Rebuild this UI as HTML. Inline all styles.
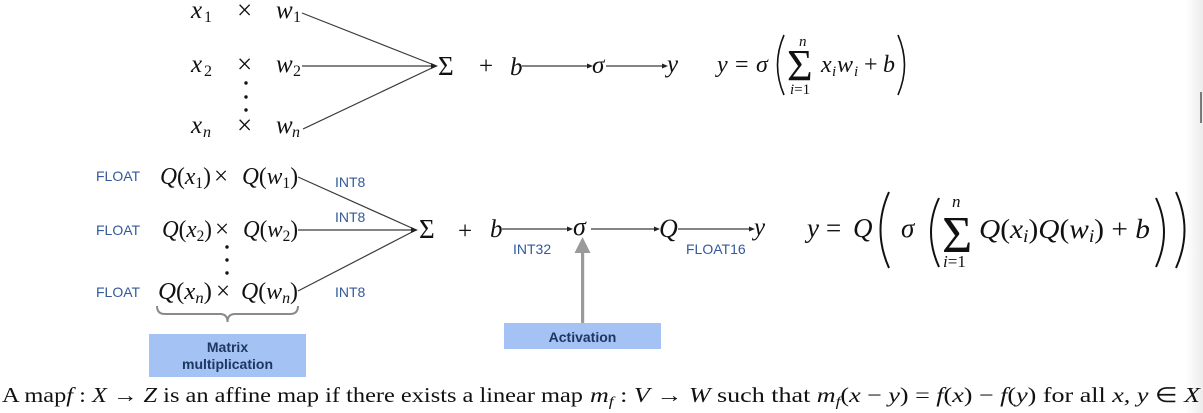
<!DOCTYPE html>
<html>
<head>
<meta charset="utf-8">
<style>
  html,body{margin:0;padding:0;background:#fff;}
  body{width:1203px;height:413px;overflow:hidden;}
  svg{display:block;}
  .m{font-family:"Liberation Serif",serif;fill:#111;}
  .i{font-style:italic;}
  .s{font-family:"Liberation Sans",sans-serif;fill:#33589c;font-size:14px;}
  .b{font-family:"Liberation Sans",sans-serif;fill:#1d3760;font-size:14px;font-weight:bold;}
</style>
</head>
<body>
<svg width="1203" height="413" viewBox="0 0 1203 413" xmlns="http://www.w3.org/2000/svg">
  <defs>
    <linearGradient id="edge" x1="0" y1="0" x2="1" y2="0">
      <stop offset="0" stop-color="#ffffff"/>
      <stop offset="1" stop-color="#ececec"/>
    </linearGradient>
  </defs>
  <rect x="1186" y="0" width="17" height="413" fill="url(#edge)"/>
  <rect x="1200" y="92" width="2" height="31" fill="#7a7a7a"/>

  <!-- ========== TOP DIAGRAM ========== -->
  <g class="m" font-size="25">
    <text x="191" y="18" class="i">x</text><text x="204" y="22" font-size="16">1</text>
    <text x="237" y="19" font-size="27">×</text>
    <text x="276" y="18" class="i">w</text><text x="293" y="22" font-size="16">1</text>

    <text x="191" y="72" class="i">x</text><text x="204" y="76" font-size="16">2</text>
    <text x="237" y="73" font-size="27">×</text>
    <text x="276" y="72" class="i">w</text><text x="293" y="76" font-size="16">2</text>

    <text x="191" y="133" class="i">x</text><text x="203" y="137" font-size="16" class="i">n</text>
    <text x="237" y="134" font-size="27">×</text>
    <text x="276" y="133" class="i">w</text><text x="292" y="137" font-size="16" class="i">n</text>
  </g>
  <circle cx="246" cy="83" r="1.7" fill="#111"/>
  <circle cx="246" cy="97" r="1.7" fill="#111"/>
  <circle cx="246" cy="110" r="1.7" fill="#111"/>

  <g stroke="#3a3a3a" stroke-width="1.2" fill="none">
    <line x1="302" y1="13" x2="434" y2="65"/>
    <line x1="302" y1="66" x2="434" y2="66"/>
    <line x1="303" y1="129" x2="434" y2="67"/>
    <line x1="522" y1="66" x2="588" y2="66"/>
    <line x1="606" y1="66" x2="663" y2="66"/>
  </g>
  <g fill="#222">
    <polygon points="438,66 431,63 431,69"/>
    <polygon points="593,66 587,63.5 587,68.5"/>
    <polygon points="668,66 662,63.5 662,68.5"/>
  </g>
  <g class="m" font-size="25">
    <text x="438" y="75" font-size="27">Σ</text>
    <text x="479" y="74">+</text>
    <text x="510" y="75" class="i">b</text>
    <text x="592" y="73" class="i">σ</text>
    <text x="667" y="72" class="i">y</text>
  </g>

  <!-- formula 1 -->
  <g class="m" font-size="24">
    <text x="717" y="72" class="i">y</text>
    <text x="735" y="72">=</text>
    <text x="756" y="72" class="i">σ</text>
    <text x="787" y="80" font-size="44">Σ</text>
    <text x="799" y="46" font-size="15" class="i">n</text>
    <text x="790" y="94" font-size="15"><tspan class="i">i</tspan>=1</text>
    <text x="821" y="72" class="i">x</text><text x="832" y="76" font-size="15" class="i">i</text>
    <text x="837" y="72" class="i">w</text><text x="854" y="76" font-size="15" class="i">i</text>
    <text x="864" y="72">+</text>
    <text x="883" y="72" class="i">b</text>
  </g>
  <g stroke="#111" stroke-width="1.6" fill="none">
    <path d="M784 35 Q771 65 784 95"/>
    <path d="M898 35 Q911 65 898 95"/>
  </g>

  <!-- ========== BOTTOM DIAGRAM ========== -->
  <text x="96" y="181" class="s">FLOAT</text>
  <text x="96" y="235" class="s">FLOAT</text>
  <text x="96" y="297" class="s">FLOAT</text>

  <g class="m" font-size="24">
    <text x="160" y="184" textLength="51" lengthAdjust="spacingAndGlyphs"><tspan class="i">Q</tspan>(<tspan class="i">x</tspan><tspan font-size="16" dy="4">1</tspan><tspan dy="-4">)</tspan></text>
    <text x="214" y="184" font-size="25">×</text>
    <text x="242" y="184" textLength="56" lengthAdjust="spacingAndGlyphs"><tspan class="i">Q</tspan>(<tspan class="i">w</tspan><tspan font-size="16" dy="4">1</tspan><tspan dy="-4">)</tspan></text>

    <text x="162" y="237" textLength="50" lengthAdjust="spacingAndGlyphs"><tspan class="i">Q</tspan>(<tspan class="i">x</tspan><tspan font-size="16" dy="4">2</tspan><tspan dy="-4">)</tspan></text>
    <text x="215" y="237" font-size="25">×</text>
    <text x="243" y="237" textLength="55" lengthAdjust="spacingAndGlyphs"><tspan class="i">Q</tspan>(<tspan class="i">w</tspan><tspan font-size="16" dy="4">2</tspan><tspan dy="-4">)</tspan></text>

    <text x="158" y="299" textLength="54" lengthAdjust="spacingAndGlyphs"><tspan class="i">Q</tspan>(<tspan class="i">x</tspan><tspan font-size="16" dy="4" class="i">n</tspan><tspan dy="-4">)</tspan></text>
    <text x="216" y="299" font-size="25">×</text>
    <text x="241" y="299" textLength="57" lengthAdjust="spacingAndGlyphs"><tspan class="i">Q</tspan>(<tspan class="i">w</tspan><tspan font-size="16" dy="4" class="i">n</tspan><tspan dy="-4">)</tspan></text>
  </g>
  <circle cx="227" cy="247" r="1.7" fill="#111"/>
  <circle cx="227" cy="260" r="1.7" fill="#111"/>
  <circle cx="227" cy="273" r="1.7" fill="#111"/>

  <g stroke="#3a3a3a" stroke-width="1.2" fill="none">
    <line x1="298" y1="177" x2="414" y2="229"/>
    <line x1="298" y1="230" x2="414" y2="230"/>
    <line x1="298" y1="291" x2="414" y2="231"/>
    <line x1="502" y1="229" x2="568" y2="229"/>
    <line x1="591" y1="229" x2="655" y2="229"/>
    <line x1="678" y1="229" x2="750" y2="229"/>
  </g>
  <g fill="#222">
    <polygon points="418,230 411,227 411,233"/>
    <polygon points="573,229 567,226.5 567,231.5"/>
    <polygon points="660,229 654,226.5 654,231.5"/>
    <polygon points="755,229 749,226.5 749,231.5"/>
  </g>

  <text x="335" y="187" class="s">INT8</text>
  <text x="335" y="222" class="s">INT8</text>
  <text x="335" y="297" class="s">INT8</text>
  <text x="513" y="254" class="s">INT32</text>
  <text x="686" y="254" class="s">FLOAT16</text>

  <g class="m" font-size="25">
    <text x="419" y="238" font-size="27">Σ</text>
    <text x="458" y="239">+</text>
    <text x="490" y="237" class="i">b</text>
    <text x="573" y="235" class="i" font-size="26">σ</text>
    <text x="659" y="237" class="i" font-size="26">Q</text>
    <text x="754" y="235" class="i">y</text>
  </g>

  <!-- brace -->
  <path d="M157 306 Q157 314 165 314 L220 314 Q227.5 314 227.5 322 Q227.5 314 235 314 L290 314 Q298 314 298 306" stroke="#8a8a8a" stroke-width="2" fill="none"/>

  <!-- Matrix multiplication box -->
  <rect x="149" y="334" width="157" height="43" fill="#a4c2f4"/>
  <text x="227.5" y="352" class="b" text-anchor="middle">Matrix</text>
  <text x="227.5" y="369" class="b" text-anchor="middle">multiplication</text>

  <!-- Activation arrow and box -->
  <rect x="581" y="252" width="3.2" height="72" fill="#9a9a9a"/>
  <polygon points="574.5,253 590.5,253 582.5,237" fill="#9a9a9a"/>
  <rect x="504" y="323" width="157" height="26" fill="#a4c2f4"/>
  <text x="582.5" y="342" class="b" text-anchor="middle">Activation</text>

  <!-- formula 2 -->
  <g class="m" font-size="27">
    <text x="807" y="237" class="i">y</text>
    <text x="826" y="237">=</text>
    <text x="853" y="237" class="i">Q</text>
    <text x="901" y="237" class="i">σ</text>
    <text x="942" y="252" font-size="52">Σ</text>
    <text x="952" y="207" font-size="17" class="i">n</text>
    <text x="943" y="267" font-size="17"><tspan class="i">i</tspan>=1</text>
    <text x="979" y="238" textLength="171" lengthAdjust="spacingAndGlyphs"><tspan class="i">Q</tspan>(<tspan class="i">x</tspan><tspan font-size="18" dy="4" class="i">i</tspan><tspan dy="-4">)</tspan><tspan class="i">Q</tspan>(<tspan class="i">w</tspan><tspan font-size="18" dy="4" class="i">i</tspan><tspan dy="-4">) + </tspan><tspan class="i">b</tspan></text>
  </g>
  <g stroke="#111" stroke-width="2" fill="none">
    <path d="M889 192 Q872 230 889 268"/>
    <path d="M939 198 Q923 232 939 267"/>
    <path d="M1156 198 Q1172 232 1156 267"/>
    <path d="M1176 192 Q1193 230 1176 268"/>
  </g>

  <!-- bottom sentence -->
  <g class="m" font-size="21">
    <text x="2" y="402" textLength="581" lengthAdjust="spacingAndGlyphs">A map<tspan class="i">f</tspan> : <tspan class="i">X</tspan> → <tspan class="i">Z</tspan> is an affine map if there exists a linear map</text>
    <text x="590" y="402" textLength="610" lengthAdjust="spacingAndGlyphs"><tspan class="i">m</tspan><tspan font-size="14" dy="4" class="i">f</tspan><tspan dy="-4"> : </tspan><tspan class="i">V</tspan> → <tspan class="i">W</tspan> such that <tspan class="i">m</tspan><tspan font-size="14" dy="4" class="i">f</tspan><tspan dy="-4">(</tspan><tspan class="i">x</tspan> − <tspan class="i">y</tspan>) = <tspan class="i">f</tspan>(<tspan class="i">x</tspan>) − <tspan class="i">f</tspan>(<tspan class="i">y</tspan>) for all <tspan class="i">x, y</tspan> ∈ <tspan class="i">X</tspan></text>
  </g>
</svg>
</body>
</html>
